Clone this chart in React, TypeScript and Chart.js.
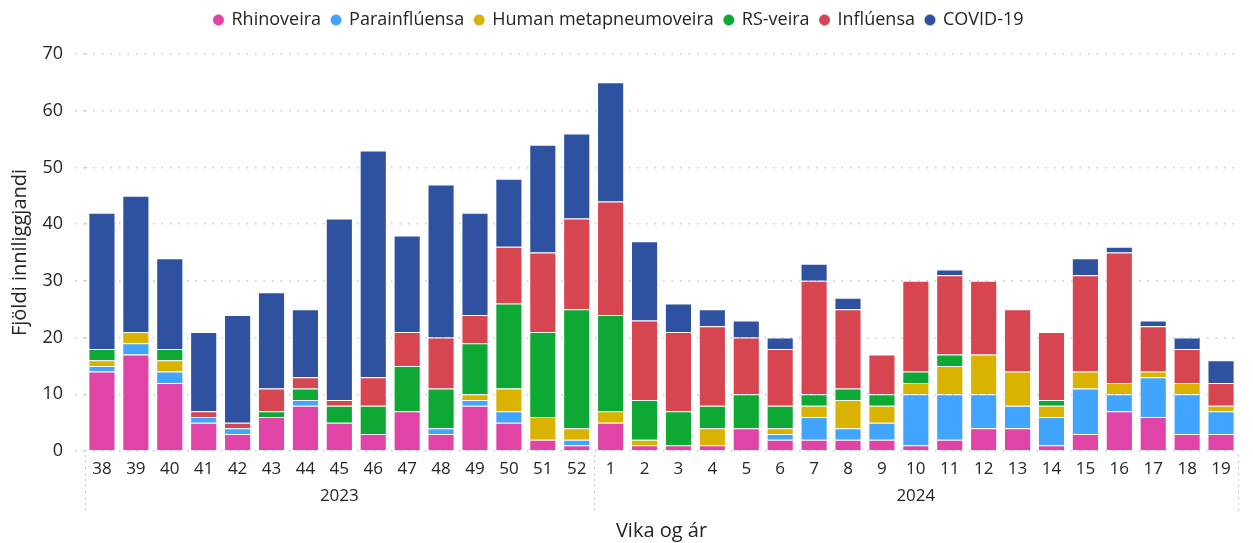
import React, { useEffect, useRef } from "react";
import { Chart, registerables } from "chart.js";

Chart.register(...registerables);

const weeks = ["38","39","40","41","42","43","44","45","46","47","48","49","50","51","52","1","2","3","4","5","6","7","8","9","10","11","12","13","14","15","16","17","18","19"];
const yearGroups = [
  { label: "2023", count: 15 },
  { label: "2024", count: 19 },
];

const rhino = [14,17,12,5,3,6,8,5,3,7,3,8,5,2,1, 5,1,1,1,4,2,2,2,2,1,2,4,4,1,3,7,6,3,3];
const para  = [1,2,2,1,1,0,1,0,0,0,1,1,2,0,1, 0,0,0,0,0,1,4,2,3,9,8,6,4,5,8,3,7,7,4];
const hmpv  = [1,2,2,0,0,0,0,0,0,0,0,1,4,4,2, 2,1,0,3,0,1,2,5,3,2,5,7,6,2,3,2,1,2,1];
const rsv   = [2,0,2,0,0,1,2,3,5,8,7,9,15,15,21, 17,7,6,4,6,4,2,2,2,2,2,0,0,1,0,0,0,0,0];
const flu   = [0,0,0,1,1,4,2,1,5,6,9,5,10,14,16, 20,14,14,14,10,10,20,14,7,16,14,13,11,12,17,23,8,6,4];
const covid = [24,24,16,14,19,17,12,32,40,17,27,18,12,19,15, 21,14,5,3,3,2,3,2,0,0,1,0,0,0,3,1,1,2,4];

const seriesNames = ["Rhinoveira","Parainflúensa","Human metapneumoveira","RS-veira","Inflúensa","COVID-19"];
const seriesValues = [rhino, para, hmpv, rsv, flu, covid];
const seriesColors = ["#E044A7","#41A5FF","#D9B300","#0EA835","#D64550","#2E52A0"];

const FONT = "'Open Sans', 'Noto Sans', sans-serif";
const TEXT = "#252423";

const legendSpacer = {
  id: "legendSpacer",
  beforeInit(chart: any) {
    const legend = chart.legend;
    if (!legend) return;
    const orig = legend.fit;
    legend.fit = function () {
      orig.call(this);
      this.height += 15;
    };
  },
};

const yearPlugin = {
  id: "yearGroups",
  afterDraw(chart: any) {
    const { ctx, chartArea } = chart;
    const x = chart.scales.x;
    const n = weeks.length;
    const step = (chartArea.right - chartArea.left) / n;
    ctx.save();
    ctx.strokeStyle = "#C8C6C4";
    ctx.lineWidth = 1;
    ctx.setLineDash([2, 4]);
    let start = 0;
    const edges: number[] = [chartArea.left];
    for (const g of yearGroups) {
      start += g.count;
      edges.push(x.getPixelForValue(start - 1) + step / 2);
    }
    for (const e of edges) {
      const px = Math.round(e) + 0.5;
      ctx.beginPath();
      ctx.moveTo(px, chartArea.bottom + 4);
      ctx.lineTo(px, chartArea.bottom + 64);
      ctx.stroke();
    }
    ctx.setLineDash([]);
    ctx.fillStyle = TEXT;
    ctx.font = `17px ${FONT}`;
    ctx.textAlign = "center";
    ctx.textBaseline = "middle";
    yearGroups.forEach((g, i) => {
      ctx.fillText(g.label, (edges[i] + edges[i + 1]) / 2, chartArea.bottom + 45);
    });
    ctx.restore();
  },
};

export default function App() {
  const ref = useRef<HTMLCanvasElement>(null);
  useEffect(() => {
    document.body.style.margin = "0";
    const chart = new Chart(ref.current!, {
      type: "bar",
      data: {
        labels: weeks,
        datasets: seriesNames.map((name, i) => ({
          label: name,
          data: seriesValues[i].map((v) => (v === 0 ? null : v)),
          backgroundColor: seriesColors[i],
          borderColor: "rgba(255,255,255,0.35)",
          borderWidth: 1,
          barPercentage: 0.8,
          categoryPercentage: 1,
        })),
      },
      plugins: [legendSpacer, yearPlugin],
      options: {
        animation: false,
        responsive: false,
        maintainAspectRatio: false,
        layout: { padding: { top: 0, right: 15, bottom: 0, left: 0 } },
        plugins: {
          legend: {
            position: "top",
            align: "center",
            labels: {
              usePointStyle: true,
              pointStyle: "circle",
              boxWidth: 8,
              boxHeight: 8,
              padding: 11,
              color: TEXT,
              font: { family: FONT, size: 18 },
            },
          },
          tooltip: { enabled: false },
        },
        scales: {
          x: {
            stacked: true,
            grid: { display: false, drawTicks: false },
            border: { display: false },
            ticks: { color: TEXT, font: { family: FONT, size: 17 }, padding: 8, maxRotation: 0, autoSkip: false },
            title: {
              display: true,
              text: "Vika og ár",
              color: TEXT,
              font: { family: FONT, size: 20 },
              padding: { top: 0, bottom: 0 },
            },
            afterFit: (s: any) => { s.height = 92; },
          },
          y: {
            stacked: true,
            min: 0,
            max: 70,
            ticks: { stepSize: 10, color: TEXT, font: { family: FONT, size: 18 }, padding: 12 },
            grid: {
              color: "#C8C6C4",
              lineWidth: 1.5,
              drawTicks: true,
              tickLength: 10,
              tickColor: "#C8C6C4",
              tickBorderDash: [1.5, 7],
            },
            border: { display: false, dash: [1.5, 7] },
            title: {
              display: true,
              text: "Fjöldi inniliggjandi",
              color: TEXT,
              font: { family: FONT, size: 20 },
              padding: { top: 8, bottom: 0 },
            },
            afterFit: (s: any) => { s.width = 85; },
          },
        },
      },
    });
    return () => chart.destroy();
  }, []);
  return (
    <div style={{ width: 1253, height: 543 }}>
      <canvas ref={ref} width={1253} height={543} style={{ display: "block" }} />
    </div>
  );
}
